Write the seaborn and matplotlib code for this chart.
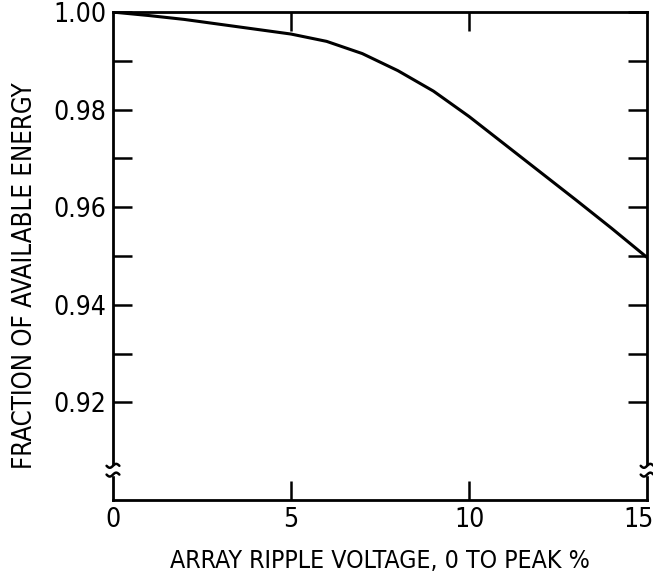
import numpy as np
import pandas as pd
import matplotlib
matplotlib.use("Agg")
import matplotlib.pyplot as plt
import matplotlib.transforms as mtransforms
import seaborn as sns
from matplotlib.ticker import FixedLocator
from matplotlib import font_manager

ripple = [0, 1, 2, 3, 4, 5, 6, 7, 8, 9, 10, 11, 12, 13, 14, 15]
fraction = [1.000, 0.9993, 0.9985, 0.9975, 0.9965, 0.9955, 0.9940, 0.9915,
            0.9880, 0.9838, 0.9786, 0.9729, 0.9672, 0.9615, 0.9557, 0.9497]
xticks = [0, 5, 10, 15]
yticks = [0.92, 0.94, 0.96, 0.98, 1.00]
ytick_labels = ["0.92", "0.94", "0.96", "0.98", "1.00"]

sns.set_theme(style="white")
names = {f.name for f in font_manager.fontManager.ttflist}
fam = [n for n in ['Liberation Sans Narrow', 'DejaVu Sans'] if n in names]
plt.rcParams['font.family'] = fam
plt.rcParams['font.stretch'] = 'condensed'
plt.rcParams['text.color'] = 'black'
plt.rcParams['axes.labelcolor'] = 'black'
plt.rcParams['xtick.color'] = 'black'
plt.rcParams['ytick.color'] = 'black'

df = pd.DataFrame({"x": ripple, "y": fraction})

fig = plt.figure(figsize=(6.53, 5.76), dpi=100)
ax = fig.add_axes([0.173, 0.132, 0.818, 0.847])
sns.lineplot(data=df, x="x", y="y", ax=ax, color="black", linewidth=2.2)

ax.set_xlim(0, 15)
ax.set_ylim(0.90, 1.00)
ax.xaxis.set_major_locator(FixedLocator(xticks))
ax.set_yticks(yticks)
ax.set_yticklabels(ytick_labels)
ax.yaxis.set_minor_locator(FixedLocator([0.93, 0.95, 0.97, 0.99]))

for s in ax.spines.values():
    s.set_color("black")
    s.set_linewidth(2.0)

ax.tick_params(axis="both", which="both", direction="in", color="black",
               width=1.8, left=True, bottom=True, top=True, right=True,
               labelsize=19, labelcolor="black")
ax.tick_params(axis="y", which="both", length=14, pad=5)
ax.tick_params(axis="x", which="major", length=14, pad=5)
for t, tick in zip(xticks, ax.xaxis.get_major_ticks()):
    if t in (0, 15):
        tick.tick1line.set_visible(False)
        tick.tick2line.set_visible(False)

# nudge the last x label so it stays inside the figure
last = ax.get_xticklabels()[-1]
last.set_transform(last.get_transform() +
                   mtransforms.ScaledTranslation(-9 / 100, 0, fig.dpi_scale_trans))

ax.set_xlabel("ARRAY RIPPLE VOLTAGE, 0 TO PEAK %", fontsize=17.8)
ax.set_ylabel("FRACTION OF AVAILABLE ENERGY", fontsize=18.5)
ax.xaxis.set_label_coords(0.5, -0.100)
ax.yaxis.set_label_coords(-0.141, 0.46)

# axis break marks on left and right spines
for xa in (0.0, 1.0):
    ax.add_patch(plt.Rectangle((xa - 0.012, 0.052), 0.024, 0.018,
                               transform=ax.transAxes, color="white",
                               zorder=5, clip_on=False))
    tt = np.linspace(-1, 1, 30)
    for yb in (0.052, 0.070):
        ax.plot(xa + tt * 0.012, yb + 0.004 * np.sin(tt * np.pi),
                transform=ax.transAxes, color="black", lw=1.8,
                clip_on=False, zorder=6)

fig.savefig("out.png", dpi=100)
